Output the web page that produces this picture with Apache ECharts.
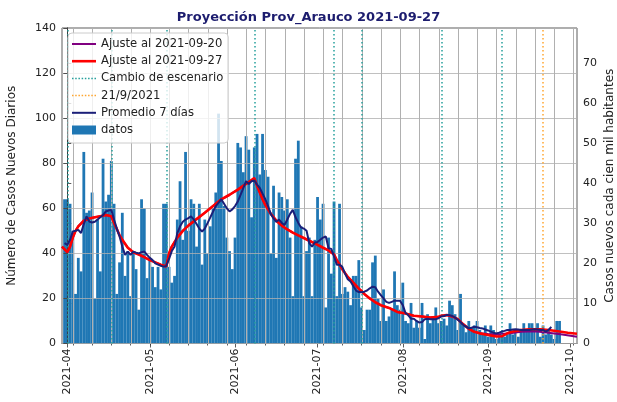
<!DOCTYPE html>
<html><head><meta charset="utf-8">
<script src="https://cdn.jsdelivr.net/npm/echarts@6/dist/echarts.min.js"></script>
<style>html,body{margin:0;padding:0;background:#fff}#c{width:617px;height:402px}</style>
</head><body><div id="c"></div>
<script>
// x values are days since 2021-04-01
const firstBarDay = -1; // 2021-03-31
const dailyCases = [
 64,64,62,50,22,38,32,85,58,59,
 67,20,55,32,82,63,66,81,62,22,
 36,58,30,41,21,40,33,15,64,60,
 29,38,34,25,34,24,62,62,34,27,
 30,55,72,46,85,50,64,62,43,62,
 35,55,40,52,60,67,102,81,61,47,
 41,33,47,89,87,76,92,86,56,87,
 93,75,93,77,74,40,70,38,67,65,
 59,64,47,21,82,90,52,21,41,47,
 21,46,65,55,62,16,47,31,63,21,
 62,22,25,23,17,30,30,37,16,6,
 15,15,36,39,20,10,24,10,12,15,
 32,17,15,27,10,9,18,7,10,7,
 18,2,13,9,12,16,9,10,11,8,
 19,17,13,6,22,8,5,10,7,8,
 10,6,4,8,3,8,6,2,4,5,
 3,4,9,4,6,3,6,9,6,9,
 9,6,9,3,8,4,6,4,2,10,
 10
];
const avgFirstDay = -1;
const avg7 = [
 44.5,43.8,46,49.7,50,50.4,49,53,56.4,54.1,
 53.7,54,55,56,57,58.6,59,59.3,55,51,
 47.5,43,39.3,40.8,39.3,40.8,40.3,40,40.5,40.8,
 39.3,38,37,35.6,35,34.5,34.1,34.4,37.5,41,
 43,49,52,54,55,55.6,56.4,55,53,51,
 49.7,51,53.4,56,58.5,61,62.5,64,62,60,
 58.6,59.5,61,63,66,69,72,70.8,72,72.4,
 70.5,69,66.5,64,61,57.5,55.5,54,55,53.5,
 52.6,55,57.5,59.3,56,53.5,51.5,51,50,44.5,
 43,44.8,45,46,47,47.5,42.3,42,38.6,35,
 35,34,31,28.5,27.5,25.5,23.5,22.8,22.7,23,
 23.5,24.5,25.2,25,23,21.5,20,18.5,18,18.5,
 19,19,19,17,13.5,12.5,11,11,10,9.3,
 9.5,10.8,11,10.8,10.8,10.8,11.2,12,12.2,12.7,
 12.5,12.2,11.5,10.5,9.5,8.2,7.5,6.7,7,7.4,
 7.2,6.9,6.7,6.2,5.8,5.3,4.8,4.5,4.8,5.3,
 5.6,6,6,6.2,6.3,6.2,6,6,6,6,
 6.2,6.3,6.2,6,6,5.3,6,7.4
];
const fit0927Days = [-1.93,0,1,2,3,4,6,8,10,12,14,16,17,18,19,20,22,24,26,28,30,32,34,36,37,38,40,42,44,47,50,53,56,59,62,65,68,69,70,71,72,73,74,76,78,80,82,84,86,88,90,93,95,97,98,100,102,104,106,107,108,110,112,114,117,120,123,126,129,132,135,136,138,140,142,144,146,148,150,153,156,158,160,162,165,168,172,175,179,182,185.35];
const fit0927Vals = [43,40.5,43,47,50,52,54.5,55.5,56,56.5,57,56.5,53.5,50.8,48,46,42.5,40.5,39.5,38.3,37,36,35,34.2,40,43,47,50,52.3,55.2,58,61,64,66,68.3,70.8,73.4,70,67,64,61.5,59.5,57.5,54.5,52.3,50.6,49.2,48,46.8,45.6,44.4,42.5,41.3,39.5,37,33,29.5,27,24.3,23.3,22,20,18.3,17,15.8,14,13.3,12.3,12,11.5,11.8,12.3,12.6,12,10.8,8.5,6.5,5.2,4.5,3.8,3.1,3.2,4.5,5.3,6,6.3,6.3,6,5.3,4.8,4.3];
// fit of 2021-09-20: same as the 09-27 fit up to day 150, then:
const fit0920SharedUntil = 150;
const fit0920TailDays = [153,156,158,161,165,170,175,180,185.35];
const fit0920TailVals = [4.2,4.0,4.2,4.6,5.2,5.4,4.8,4.0,3.0];
const scenarioChangeDays = [0,16,36,68,97,107,136,158];
const markerDays = [173]; // 21/9/2021
const monthTickDays = [0,30,61,91,122,153,183];
const monthTickLabels = ['2021-04','2021-05','2021-06','2021-07','2021-08','2021-09','2021-10'];
const weekGridDays = [2,9,16,23,30,37,44,51,58,65,72,79,86,93,100,107,114,121,128,135,142,149,156,163,170,177,184];
const population = 177800;
const leftMax = 140;
const rightMax = leftMax * 100000 / population;
const xMin = -1.93, xMax = 185.35;

const FONT = 'DejaVu Sans';
const barData = dailyCases.map((v,i)=>[firstBarDay+i, v]);
const avgData = avg7.map((v,i)=>[avgFirstDay+i, v]);
const fit27 = fit0927Days.map((d,i)=>[d, fit0927Vals[i]]);
const fit20 = fit27.filter(p=>p[0]<=fit0920SharedUntil).concat(fit0920TailDays.map((d,i)=>[d, fit0920TailVals[i]]));

const lineIcon = 'path://M0,0H24V2H0Z';
const thickIcon = 'path://M0,0H24V2.6H0Z';
let dots = '';
for (let i=0;i<8;i++){ const x=(i*3.2).toFixed(2); dots += 'M'+x+',0h1.5v1.5h-1.5z'; }
const dotIcon = 'path://' + dots;

const teal = '#26a09c', orange = '#ffa630', navy = '#1b1f78', purple = '#800080', red = '#ff0000', blue = '#1f77b4';
const gridGray = '#b0b0b0';

const chart = echarts.init(document.getElementById('c'), null, {renderer:'canvas'});
chart.setOption({
  animation:false,
  backgroundColor:'#ffffff',
  textStyle:{fontFamily:FONT},
  title:{text:'Proyección Prov_Arauco 2021-09-27', left:'center', top:6,
    textStyle:{fontFamily:FONT, fontSize:13, fontWeight:'bold', color:'#1c1c6e'}},
  grid:{left:62, right:40, top:28, bottom:58.5, show:true, borderColor:'#333', borderWidth:0.8,
    backgroundColor:'transparent', containLabel:false, outerBoundsMode:'none'},
  legend:{
    left:68, top:33, orient:'vertical', itemWidth:24, itemHeight:9, itemGap:5.2,
    padding:[5,5,7,4], backgroundColor:'rgba(255,255,255,0.8)', borderColor:'#cccccc', borderWidth:1, borderRadius:4,
    textStyle:{fontFamily:FONT, fontSize:11.6, color:'#222', lineHeight:12},
    itemStyle:{borderWidth:0},
    selectedMode:false, z:10,
    data:[
      {name:'Ajuste al 2021-09-20', icon:lineIcon},
      {name:'Ajuste al 2021-09-27', icon:thickIcon},
      {name:'Cambio de escenario', icon:dotIcon},
      {name:'21/9/2021', icon:dotIcon},
      {name:'Promedio 7 días', icon:lineIcon},
      {name:'datos', icon:'rect'}
    ]
  },
  xAxis:[
    {type:'value', min:xMin, max:xMax, position:'bottom',
     axisLine:{show:true, onZero:false, lineStyle:{color:'#333', width:0.8}},
     axisTick:{show:true, customValues:monthTickDays, length:4, lineStyle:{color:'#333', width:0.8}},
     axisLabel:{customValues:monthTickDays, rotate:90, fontSize:11, color:'#222', margin:5, fontFamily:FONT,
       formatter:function(v){ const i = monthTickDays.indexOf(Math.round(v)); return i>=0 ? monthTickLabels[i] : ''; }},
     splitLine:{show:false}},
    {type:'value', min:xMin, max:xMax, position:'bottom',
     axisLine:{show:false},
     axisTick:{show:true, customValues:weekGridDays, length:2, lineStyle:{color:'#333', width:0.8}},
     axisLabel:{show:false, customValues:weekGridDays},
     splitLine:{show:false}}
  ],
  yAxis:[
    {type:'value', min:0, max:leftMax, interval:20, position:'left', z:3,
     name:'Número de Casos Nuevos Diarios', nameLocation:'middle', nameGap:44, nameMoveOverlap:false,
     nameTextStyle:{fontFamily:FONT, fontSize:12, color:'#222'},
     axisLine:{show:true, lineStyle:{color:'#333', width:0.8}},
     axisTick:{show:true, length:4, lineStyle:{color:'#333', width:0.8}},
     axisLabel:{fontSize:11, color:'#222', margin:6, fontFamily:FONT},
     splitLine:{show:true, lineStyle:{color:gridGray, width:0.8}}},
    {type:'value', min:0, max:rightMax, interval:10, position:'right',
     name:'Casos nuevos cada cien mil habitantes', nameLocation:'middle', nameGap:27, nameRotate:90, nameMoveOverlap:false,
     nameTextStyle:{fontFamily:FONT, fontSize:12, color:'#222'},
     axisLine:{show:true, lineStyle:{color:'#333', width:0.8}},
     axisTick:{show:true, length:4, lineStyle:{color:'#333', width:0.8}},
     axisLabel:{fontSize:11, color:'#222', margin:6, fontFamily:FONT, showMaxLabel:false},
     splitLine:{show:false}}
  ],
  series:[
    {name:'datos', type:'bar', data:barData, barWidth:2.8, itemStyle:{color:blue}, z:2},
    {name:'rejilla semanal', type:'custom', z:3, silent:true, xAxisIndex:0, yAxisIndex:0,
     data:weekGridDays.map(d=>[d, 0]), encode:{x:0, y:1},
     renderItem:function(params, api){
       const d = api.value(0);
       const pTop = api.coord([d, leftMax]);
       const pBot = api.coord([d, 0]);
       const x = Math.round(pTop[0]) + 0.5;
       return {type:'line', shape:{x1:x, y1:pTop[1], x2:x, y2:pBot[1]},
               style:{stroke:gridGray, lineWidth:1, fill:null}};
     }},
    {name:'Ajuste al 2021-09-20', type:'line', data:fit20, symbol:'none', z:4,
     lineStyle:{color:purple, width:2}, itemStyle:{color:purple}},
    {name:'Ajuste al 2021-09-27', type:'line', data:fit27, symbol:'none', z:5,
     lineStyle:{color:red, width:2.6}, itemStyle:{color:red}},
    {name:'Cambio de escenario', type:'line', data:[], symbol:'none', z:4,
     lineStyle:{color:teal}, itemStyle:{color:teal},
     markLine:{silent:true, symbol:['none','none'], label:{show:false}, animation:false,
       lineStyle:{color:teal, width:1.5, type:[1.5,2.5]},
       data:scenarioChangeDays.map(d=>({xAxis:d}))}},
    {name:'21/9/2021', type:'line', data:[], symbol:'none', z:4,
     lineStyle:{color:orange}, itemStyle:{color:orange},
     markLine:{silent:true, symbol:['none','none'], label:{show:false}, animation:false,
       lineStyle:{color:orange, width:1.5, type:[1.5,2.5]},
       data:markerDays.map(d=>({xAxis:d}))}},
    {name:'Promedio 7 días', type:'line', data:avgData, symbol:'none', z:6,
     lineStyle:{color:navy, width:2}, itemStyle:{color:navy}}
  ]
});
</script></body></html>
